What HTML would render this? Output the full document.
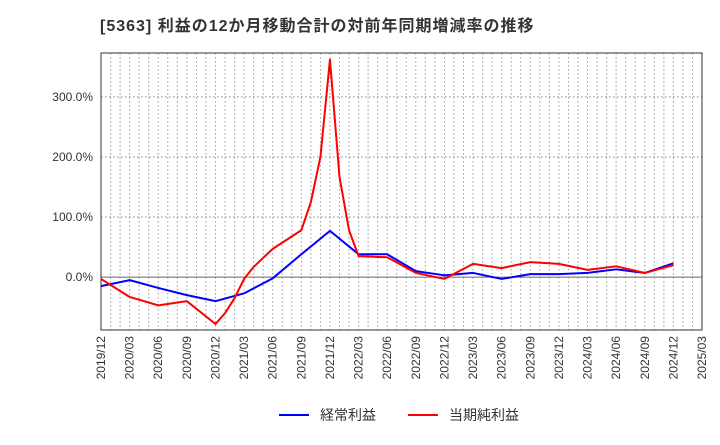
<!DOCTYPE html>
<html><head><meta charset="utf-8"><style>
body{margin:0;background:#fff;font-family:"Liberation Sans","Noto Sans CJK JP",sans-serif;}
</style></head><body>
<svg id="c" width="720" height="440" style="font-family:'Liberation Sans','Noto Sans CJK JP',sans-serif">
<text x="100" y="31" font-size="16" font-weight="bold" fill="#333" letter-spacing="1">[5363]  利益の12か月移動合計の対前年同期増減率の推移</text>
<g id="grid"></g><g id="axes"></g><g id="series"></g>
<g>
<line x1="279" y1="415" x2="309" y2="415" stroke="#0000ff" stroke-width="2"/>
<text x="320" y="420" font-size="14" fill="#333">経常利益</text>
<line x1="408" y1="415" x2="438" y2="415" stroke="#ff0000" stroke-width="2"/>
<text x="449" y="420" font-size="14" fill="#333">当期純利益</text>
</g>
</svg>
<script>
const xTickLabels=["2019/12","2020/03","2020/06","2020/09","2020/12","2021/03","2021/06","2021/09","2021/12","2022/03","2022/06","2022/09","2022/12","2023/03","2023/06","2023/09","2023/12","2024/03","2024/06","2024/09","2024/12","2025/03"];
const yTicks=[0,100,200,300];
const blueMonths=[0,3,6,9,12,15,18,21,24,27,30,33,36,39,42,45,48,51,54,57,60];
const blueValues=[-15,-5,-18,-30,-40,-27,-2,38,77,38,38,10,3,7,-3,5,5,7,13,7,23];
const redMonths=[0,3,6,9,12,13,14,15,16,17,18,21,22,23,24,25,26,27,30,33,36,39,42,45,48,51,54,57,60];
const redValues=[-3,-33,-47,-40,-78,-60,-35,-3,17,32,47,78,125,200,362,167,78,35,33,7,-3,22,15,25,22,12,18,7,20];
const L=101,R=702,T=53,B=330,yMin=-88,yMax=373,nM=63;
const xs=m=>L+(R-L)*m/nM, ys=v=>B-(v-yMin)/(yMax-yMin)*(B-T);
const NS="http://www.w3.org/2000/svg";
function mk(p,t,a){const e=document.createElementNS(NS,t);for(const k in a)e.setAttribute(k,a[k]);p.appendChild(e);return e;}
const g=document.getElementById('grid'),ax=document.getElementById('axes'),s=document.getElementById('series');
for(let m=1;m<nM;m++){const l=mk(g,'line',{x1:xs(m),x2:xs(m),y1:T,y2:B,stroke:'#999','stroke-dasharray':'1.5,2.5','stroke-width':1});
}
yTicks.forEach(v=>{const l=mk(g,'line',{x1:L,x2:R,y1:ys(v),y2:ys(v),stroke:v===0?'#666':'#888','stroke-dasharray':v===0?'':'1.5,2.5','stroke-width':1});

const t=mk(ax,'text',{x:L-8,y:ys(v)+4,'text-anchor':'end','font-size':12,fill:'#333'});t.textContent=v.toFixed(1)+'%';
});
const fr=mk(ax,'rect',{x:L,y:T,width:R-L,height:B-T,fill:'none',stroke:'#333'});

xTickLabels.forEach((lb,i)=>{const x=xs(i*3);const t=mk(ax,'text',{x:x+4,y:B+6,'text-anchor':'end','font-size':12,fill:'#333',transform:`rotate(-90 ${x+4} ${B+6})`});t.textContent=lb;
});
function line(ms,vs,c,n){const p=mk(s,'polyline',{points:ms.map((m,i)=>xs(m)+','+ys(vs[i])).join(' '),fill:'none',stroke:c,'stroke-width':2,'stroke-linejoin':'round'});
}
line(blueMonths,blueValues,'#0000ff','keijo-line');
line(redMonths,redValues,'#ff0000','junrieki-line');
</script>
</body></html>
